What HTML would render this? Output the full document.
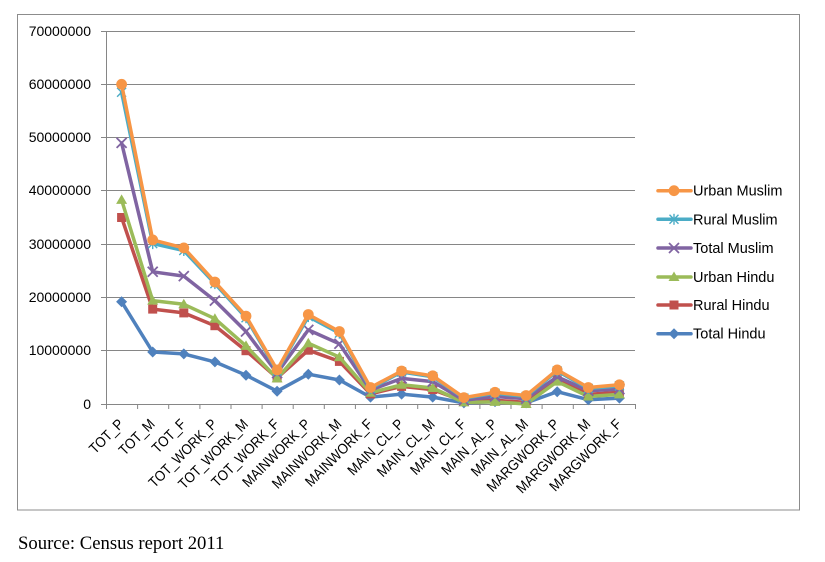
<!DOCTYPE html>
<html>
<head>
<meta charset="utf-8">
<style>
html,body{margin:0;padding:0;background:#fff;}
svg{display:block;}
text{font-family:"Liberation Sans",Arial,sans-serif;fill:#000;}
</style>
</head>
<body>
<svg width="825" height="562" viewBox="0 0 825 562" xmlns="http://www.w3.org/2000/svg">
<defs>
  <marker id="mO" markerUnits="userSpaceOnUse" markerWidth="14" markerHeight="14" refX="7" refY="7" viewBox="0 0 14 14" overflow="visible">
    <circle cx="7" cy="7" r="5.4" fill="#F79646"/>
  </marker>
  <marker id="mC" markerUnits="userSpaceOnUse" markerWidth="14" markerHeight="14" refX="7" refY="7" viewBox="0 0 14 14" overflow="visible">
    <g stroke="#4BACC6" stroke-width="1.4" fill="none">
      <line x1="2.5" y1="2.5" x2="11.5" y2="11.5"/><line x1="11.5" y1="2.5" x2="2.5" y2="11.5"/><line x1="7" y1="1.5" x2="7" y2="12.5"/>
    </g>
  </marker>
  <marker id="mP" markerUnits="userSpaceOnUse" markerWidth="14" markerHeight="14" refX="7" refY="7" viewBox="0 0 14 14" overflow="visible">
    <g stroke="#8064A2" stroke-width="1.8" fill="none">
      <line x1="2" y1="2" x2="12" y2="12"/><line x1="12" y1="2" x2="2" y2="12"/>
    </g>
  </marker>
  <marker id="mG" markerUnits="userSpaceOnUse" markerWidth="14" markerHeight="14" refX="7" refY="7" viewBox="0 0 14 14" overflow="visible">
    <polygon points="7,1.5 12.5,11 1.5,11" fill="#9BBB59"/>
  </marker>
  <marker id="mR" markerUnits="userSpaceOnUse" markerWidth="14" markerHeight="14" refX="7" refY="7" viewBox="0 0 14 14" overflow="visible">
    <rect x="2.5" y="2.5" width="9" height="9" fill="#C0504D"/>
  </marker>
  <marker id="mB" markerUnits="userSpaceOnUse" markerWidth="14" markerHeight="14" refX="7" refY="7" viewBox="0 0 14 14" overflow="visible">
    <polygon points="7,1.5 12.5,7 7,12.5 1.5,7" fill="#4F81BD"/>
  </marker>
</defs>

<rect x="0" y="0" width="825" height="562" fill="#fff"/>
<rect x="17.5" y="14.5" width="782" height="495.5" fill="none" stroke="#8c8c8c" stroke-width="1"/>

<g stroke="#868686" stroke-width="1">
  <line x1="101" y1="31.5" x2="635" y2="31.5"/>
  <line x1="101" y1="84.5" x2="635" y2="84.5"/>
  <line x1="101" y1="137.5" x2="635" y2="137.5"/>
  <line x1="101" y1="190.5" x2="635" y2="190.5"/>
  <line x1="101" y1="244.5" x2="635" y2="244.5"/>
  <line x1="101" y1="297.5" x2="635" y2="297.5"/>
  <line x1="101" y1="350.5" x2="635" y2="350.5"/>
  <line x1="101" y1="404.5" x2="635" y2="404.5"/>
  <line x1="106.5" y1="31" x2="106.5" y2="404"/>
</g>
<g stroke="#868686" stroke-width="1">
  <line x1="106.5" y1="404" x2="106.5" y2="409"/>
  <line x1="137.6" y1="404" x2="137.6" y2="409"/>
  <line x1="168.7" y1="404" x2="168.7" y2="409"/>
  <line x1="199.9" y1="404" x2="199.9" y2="409"/>
  <line x1="231.0" y1="404" x2="231.0" y2="409"/>
  <line x1="262.1" y1="404" x2="262.1" y2="409"/>
  <line x1="293.2" y1="404" x2="293.2" y2="409"/>
  <line x1="324.3" y1="404" x2="324.3" y2="409"/>
  <line x1="355.4" y1="404" x2="355.4" y2="409"/>
  <line x1="386.6" y1="404" x2="386.6" y2="409"/>
  <line x1="417.7" y1="404" x2="417.7" y2="409"/>
  <line x1="448.8" y1="404" x2="448.8" y2="409"/>
  <line x1="479.9" y1="404" x2="479.9" y2="409"/>
  <line x1="511.0" y1="404" x2="511.0" y2="409"/>
  <line x1="542.1" y1="404" x2="542.1" y2="409"/>
  <line x1="573.3" y1="404" x2="573.3" y2="409"/>
  <line x1="604.4" y1="404" x2="604.4" y2="409"/>
  <line x1="635.5" y1="404" x2="635.5" y2="409"/>
</g>

<g font-size="14" text-anchor="end">
  <text x="91" y="36">70000000</text>
  <text x="91" y="89">60000000</text>
  <text x="91" y="142">50000000</text>
  <text x="91" y="195">40000000</text>
  <text x="91" y="249">30000000</text>
  <text x="91" y="302">20000000</text>
  <text x="91" y="355">10000000</text>
  <text x="91" y="409">0</text>
</g>

<g font-size="14.5" text-anchor="end">
  <text transform="translate(124.6,425) rotate(-45) scale(0.9,1)">TOT_P</text>
  <text transform="translate(155.7,425) rotate(-45) scale(0.9,1)">TOT_M</text>
  <text transform="translate(186.8,425) rotate(-45) scale(0.9,1)">TOT_F</text>
  <text transform="translate(217.9,425) rotate(-45) scale(0.9,1)">TOT_WORK_P</text>
  <text transform="translate(249.0,425) rotate(-45) scale(0.9,1)">TOT_WORK_M</text>
  <text transform="translate(280.1,425) rotate(-45) scale(0.9,1)">TOT_WORK_F</text>
  <text transform="translate(311.3,425) rotate(-45) scale(0.9,1)">MAINWORK_P</text>
  <text transform="translate(342.4,425) rotate(-45) scale(0.9,1)">MAINWORK_M</text>
  <text transform="translate(373.5,425) rotate(-45) scale(0.9,1)">MAINWORK_F</text>
  <text transform="translate(404.6,425) rotate(-45) scale(0.9,1)">MAIN_CL_P</text>
  <text transform="translate(435.7,425) rotate(-45) scale(0.9,1)">MAIN_CL_M</text>
  <text transform="translate(466.9,425) rotate(-45) scale(0.9,1)">MAIN_CL_F</text>
  <text transform="translate(498.0,425) rotate(-45) scale(0.9,1)">MAIN_AL_P</text>
  <text transform="translate(529.1,425) rotate(-45) scale(0.9,1)">MAIN_AL_M</text>
  <text transform="translate(560.2,425) rotate(-45) scale(0.9,1)">MARGWORK_P</text>
  <text transform="translate(591.3,425) rotate(-45) scale(0.9,1)">MARGWORK_M</text>
  <text transform="translate(622.4,425) rotate(-45) scale(0.9,1)">MARGWORK_F</text>
</g>

<g fill="none" stroke-width="3.5" stroke-linejoin="round" stroke-linecap="round">
  <polyline stroke="#4F81BD" marker-start="url(#mB)" marker-mid="url(#mB)" marker-end="url(#mB)"
    points="121.6,301.7 152.7,352.0 183.8,353.9 214.9,361.9 246.0,375.2 277.1,391.2 308.3,374.2 339.4,380.0 370.5,397.1 401.6,394.1 432.7,397.1 463.9,402.9 495.0,401.6 526.1,402.9 557.2,391.7 588.3,399.7 619.4,398.1"/>
  <polyline stroke="#C0504D" marker-start="url(#mR)" marker-mid="url(#mR)" marker-end="url(#mR)"
    points="121.6,217.5 152.7,309.1 183.8,312.9 214.9,325.7 246.0,350.7 277.1,377.9 308.3,350.2 339.4,361.4 370.5,393.9 401.6,386.4 432.7,389.6 463.9,401.3 495.0,400.3 526.1,402.4 557.2,380.0 588.3,394.4 619.4,392.3"/>
  <polyline stroke="#9BBB59" marker-start="url(#mG)" marker-mid="url(#mG)" marker-end="url(#mG)"
    points="121.6,199.9 152.7,300.6 183.8,304.3 214.9,318.7 246.0,345.9 277.1,378.4 308.3,343.2 339.4,357.1 370.5,392.8 401.6,384.8 432.7,388.0 463.9,402.4 495.0,401.9 526.1,404.0 557.2,381.6 588.3,396.5 619.4,394.4"/>
  <polyline stroke="#8064A2" marker-start="url(#mP)" marker-mid="url(#mP)" marker-end="url(#mP)"
    points="121.6,142.9 152.7,271.8 183.8,276.1 214.9,300.6 246.0,331.5 277.1,373.1 308.3,329.9 339.4,343.8 370.5,390.1 401.6,378.4 432.7,381.6 463.9,400.3 495.0,396.5 526.1,398.7 557.2,376.8 588.3,390.7 619.4,389.1"/>
  <polyline stroke="#4BACC6" marker-start="url(#mC)" marker-mid="url(#mC)" marker-end="url(#mC)"
    points="121.6,92.3 152.7,243.6 183.8,250.5 214.9,283.6 246.0,317.7 277.1,371.0 308.3,316.6 339.4,333.1 370.5,388.5 401.6,372.0 432.7,376.8 463.9,398.1 495.0,393.3 526.1,396.5 557.2,371.0 588.3,388.5 619.4,385.9"/>
  <polyline stroke="#F79646" marker-start="url(#mO)" marker-mid="url(#mO)" marker-end="url(#mO)"
    points="121.6,84.3 152.7,239.9 183.8,247.9 214.9,282.0 246.0,316.1 277.1,369.9 308.3,314.5 339.4,331.5 370.5,387.5 401.6,371.0 432.7,375.8 463.9,397.6 495.0,392.3 526.1,395.5 557.2,369.9 588.3,387.5 619.4,384.8"/>
</g>

<g fill="none" stroke-width="3.5" stroke-linecap="round">
  <polyline stroke="#F79646" points="658,190.7 674,190.7 691,190.7" marker-mid="url(#mO)"/>
  <polyline stroke="#4BACC6" points="658,219.3 674,219.3 691,219.3" marker-mid="url(#mC)"/>
  <polyline stroke="#8064A2" points="658,248 674,248 691,248" marker-mid="url(#mP)"/>
  <polyline stroke="#9BBB59" points="658,277 674,277 691,277" marker-mid="url(#mG)"/>
  <polyline stroke="#C0504D" points="658,305 674,305 691,305" marker-mid="url(#mR)"/>
  <polyline stroke="#4F81BD" points="658,333.7 674,333.7 691,333.7" marker-mid="url(#mB)"/>
</g>
<g font-size="14.5">
  <text x="693" y="195.7">Urban Muslim</text>
  <text x="693" y="224.3">Rural Muslim</text>
  <text x="693" y="253">Total Muslim</text>
  <text x="693" y="282">Urban Hindu</text>
  <text x="693" y="310">Rural Hindu</text>
  <text x="693" y="338.7">Total Hindu</text>
</g>

<text x="18" y="549" font-size="18.7" style="font-family:'Liberation Serif','Times New Roman',serif;">Source: Census report 2011</text>
</svg>
</body>
</html>
